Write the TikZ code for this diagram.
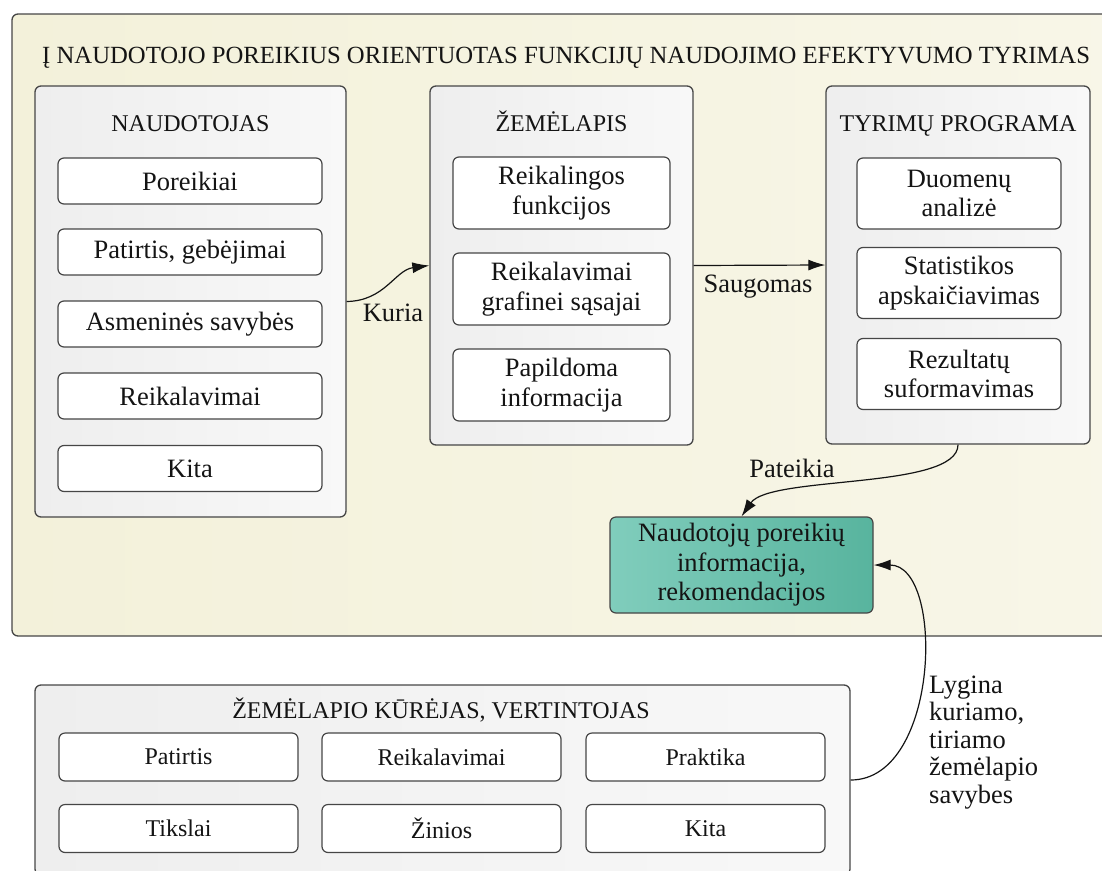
\documentclass[tikz,border=0pt]{standalone}
\usepackage{fontspec}
\setmainfont{Liberation Serif}
\usetikzlibrary{arrows.meta}
\definecolor{creamL}{RGB}{243,241,218}
\definecolor{creamR}{RGB}{248,246,232}
\definecolor{panL}{RGB}{238,238,238}
\definecolor{panR}{RGB}{248,248,248}
\definecolor{grnL}{RGB}{128,205,188}
\definecolor{grnR}{RGB}{88,180,158}
\definecolor{edge}{RGB}{70,70,70}
\definecolor{ink}{RGB}{20,20,20}
\tikzset{
  txt/.style={font=\fontsize{26.5}{29.5}\selectfont, text=ink, align=center},
  smalltxt/.style={font=\fontsize{24}{27}\selectfont},
  outerbox/.style={draw=edge, line width=1.3pt, rounded corners=6pt, left color=creamL, right color=creamR},
  panelbox/.style={draw=edge, line width=1.3pt, rounded corners=6pt, left color=panL, right color=panR, inner sep=0pt},
  itembox/.style={txt, draw=edge, line width=1.2pt, rounded corners=6pt, fill=white, inner sep=0pt},
  greenbox/.style={txt, draw=edge, line width=1.2pt, rounded corners=6pt, left color=grnL, right color=grnR, inner sep=0pt},
  conn/.style={draw=ink, line width=1.2pt, -{Latex[length=17pt,width=11pt]}},
  lbl/.style={txt, inner sep=0pt}
}
\begin{document}
\begin{tikzpicture}[x=1pt,y=-1pt]
\useasboundingbox (0,0) rectangle (1102,870);
\clip (0,0) rectangle (1102,870);
% outer frame
\path[outerbox] (12,14) rectangle (1130,636);
\node[lbl, anchor=base west, font=\fontsize{24.7}{28}\selectfont] (title) at (42,63) {Į NAUDOTOJO POREIKIUS ORIENTUOTAS FUNKCIJŲ NAUDOJIMO EFEKTYVUMO TYRIMAS};

% panels
\node[panelbox, minimum width=311pt, minimum height=431pt] (naud) at (190.5,301.5) {};
\node[panelbox, minimum width=263pt, minimum height=359pt] (zem) at (561.5,265.5) {};
\node[panelbox, minimum width=264pt, minimum height=358pt] (tyr) at (958,265) {};
\node[panelbox, minimum width=815pt, minimum height=190pt] (kur) at (442.5,780) {};

% panel titles
\node[lbl, smalltxt, anchor=base] (naudT) at (190.5,131) {NAUDOTOJAS};
\node[lbl, smalltxt, anchor=base] (zemT) at (561.5,131) {ŽEMĖLAPIS};
\node[lbl, smalltxt, anchor=base] (tyrT) at (958,131) {TYRIMŲ PROGRAMA};
\node[lbl, smalltxt, anchor=base] (kurT) at (441,718) {ŽEMĖLAPIO KŪRĖJAS, VERTINTOJAS};

% NAUDOTOJAS items
\node[itembox, minimum width=264pt, minimum height=46pt] (n1) at (190,181) {Poreikiai};
\node[itembox, minimum width=264pt, minimum height=46pt] (n2) at (190,252) {Patirtis, gebėjimai};
\node[itembox, minimum width=264pt, minimum height=46pt] (n3) at (190,324) {Asmeninės savybės};
\node[itembox, minimum width=264pt, minimum height=46pt] (n4) at (190,396) {Reikalavimai};
\node[itembox, minimum width=264pt, minimum height=46pt] (n5) at (190,468.5) {Kita};

% ZEMELAPIS items
\node[itembox, minimum width=217pt, minimum height=72pt] (z1) at (561.5,193) {Reikalingos\\funkcijos};
\node[itembox, minimum width=217pt, minimum height=72pt] (z2) at (561.5,289) {Reikalavimai\\grafinei sąsajai};
\node[itembox, minimum width=217pt, minimum height=72pt] (z3) at (561.5,385) {Papildoma\\informacija};

% TYRIMU items
\node[itembox, minimum width=204pt, minimum height=71pt] (t1) at (959,193.5) {Duomenų\\analizė};
\node[itembox, minimum width=204pt, minimum height=71pt] (t2) at (959,283) {Statistikos\\apskaičiavimas};
\node[itembox, minimum width=204pt, minimum height=71pt] (t3) at (959,374) {Rezultatų\\suformavimas};

% bottom items
\node[itembox, smalltxt, minimum width=239pt, minimum height=48pt] (k1) at (178.5,757) {Patirtis};
\node[itembox, smalltxt, minimum width=239pt, minimum height=48pt] (k2) at (441.5,757) {Reikalavimai};
\node[itembox, smalltxt, minimum width=239pt, minimum height=48pt] (k3) at (705.5,757) {Praktika};
\node[itembox, smalltxt, minimum width=239pt, minimum height=48pt] (k4) at (178.5,828.5) {Tikslai};
\node[itembox, smalltxt, minimum width=239pt, minimum height=48pt] (k5) at (441.5,828.5) {Žinios};
\node[itembox, smalltxt, minimum width=239pt, minimum height=48pt] (k6) at (705.5,828.5) {Kita};

% green result
\node[greenbox, minimum width=263pt, minimum height=96pt] (res) at (741.5,565) {Naudotojų poreikių\\informacija,\\rekomendacijos};

% connectors
\draw[conn] (naud.east) .. controls (385,301) and (395,270) .. (zem.west);
\node[lbl] (kuria) at (393,313) {Kuria};
\draw[conn] (zem.east) -- (tyr.west);
\node[lbl] (saug) at (758,287) {Saugomas};
\draw[conn] (tyr.south) .. controls (958,490) and (770,475) .. (res.north);
\node[lbl] (pat) at (792,468) {Pateikia};
\draw[conn] (kur.east) .. controls (940,780) and (945,565) .. (res.east);
\node[lbl, anchor=base west, align=left, font=\fontsize{26.5}{27.5}\selectfont] (lyg) at (929,803) {Lygina\\kuriamo,\\tiriamo\\žemėlapio\\savybes};
\end{tikzpicture}
\end{document}
